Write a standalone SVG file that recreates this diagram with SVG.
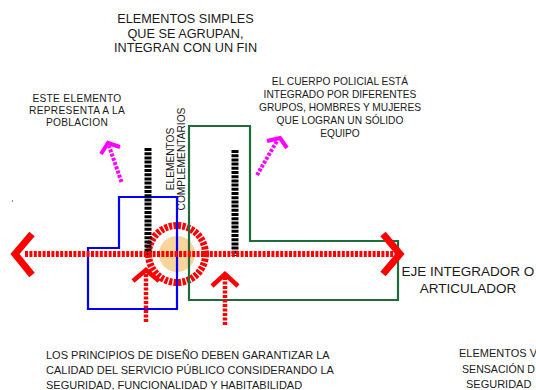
<svg xmlns="http://www.w3.org/2000/svg" width="536" height="390" viewBox="0 0 536 390">
<style>
text{font-family:"Liberation Sans",Arial,sans-serif;fill:#1a1a1a}
.t13{font-size:12.7px;text-anchor:middle}
.t10{font-size:10.2px;text-anchor:middle}
.t11{font-size:11px}
.big{font-size:13.5px;text-anchor:middle}
.reddash{fill:none;stroke:#ff0000;stroke-width:6;stroke-dasharray:3 1.4}
.redup{fill:none;stroke:#ff0000;stroke-width:4.5;stroke-dasharray:3 1.5}
.redhead{fill:none;stroke:#ff0000;stroke-width:4.5;stroke-linecap:butt;stroke-linejoin:miter}
.bighead{fill:none;stroke:#ff0000;stroke-width:7;stroke-linejoin:miter}
.blackdash{fill:none;stroke:#000;stroke-width:7;stroke-dasharray:3 1.2}
.mag{fill:none;stroke:#ff00ff;stroke-width:4;stroke-dasharray:3 1.5}
.maghead{fill:none;stroke:#ff00ff;stroke-width:4;stroke-linejoin:miter}
</style>
<rect width="536" height="390" fill="#fff"/>

<g id="poblacion-text">
<text class="t10" x="77" y="101.5" letter-spacing="0.3">ESTE ELEMENTO</text>
<text class="t10" x="77" y="113.5" letter-spacing="0.3">REPRESENTA A LA</text>
<text class="t10" x="77" y="125.5" letter-spacing="0.3">POBLACION</text>
</g>

<g id="title-text">
<text class="t13" x="185.5" y="23">ELEMENTOS SIMPLES</text>
<text class="t13" x="185.5" y="37.5">QUE SE AGRUPAN,</text>
<text class="t13" x="185.5" y="52">INTEGRAN CON UN FIN</text>
</g>

<g id="policia-text">
<text class="t10" x="340" y="85">EL CUERPO POLICIAL ESTÁ</text>
<text class="t10" x="340" y="97.5">INTEGRADO POR DIFERENTES</text>
<text class="t10" x="340" y="110.5">GRUPOS, HOMBRES Y MUJERES</text>
<text class="t10" x="340" y="124">QUE LOGRAN UN SÓLIDO</text>
<text class="t10" x="340" y="137">EQUIPO</text>
</g>

<g id="complementarios-text">
<text class="t10" transform="translate(173.5,159) rotate(-90)">ELEMENTOS</text>
<text class="t10" transform="translate(184.5,159) rotate(-90)">COMPLEMENTARIOS</text>
</g>

<g id="center-node">
<circle cx="177" cy="254" r="18" fill="#f9d59c"/>
<circle cx="177" cy="254" r="28.5" fill="none" stroke="#ff0000" stroke-width="7" stroke-dasharray="3.2 1.3"/>
</g>

<g id="blue-shape">
<polygon points="119,197 177,197 177,309 88,309 88,248 119,248" fill="none" stroke="#0000ff" stroke-width="2.2"/>
</g>

<g id="green-shape">
<polygon points="189,126 250,126 250,241 398,241 398,300 189,300" fill="none" stroke="#1f6b3a" stroke-width="2.2"/>
</g>

<g id="connectors">
<line class="blackdash" x1="148" y1="148" x2="148" y2="255"/>
<line class="blackdash" x1="235" y1="150" x2="235" y2="256"/>
<line class="reddash" x1="25" y1="254" x2="396" y2="254"/>
<polyline class="bighead" points="32,234 15,254 32,275"/>
<polyline class="bighead" points="383,234 400,254 383,274"/>
<line class="redup" x1="146" y1="322" x2="146" y2="271"/>
<polyline class="redhead" points="133,281 146,270 159,281"/>
<line class="redup" x1="225" y1="325" x2="225" y2="275"/>
<polyline class="redhead" points="212,286 225,274 238,286"/>
<line class="mag" x1="121.5" y1="182" x2="109" y2="146"/>
<polyline class="maghead" points="101,154 108,143 120,147"/>
<line class="mag" x1="257" y1="175" x2="277" y2="141"/>
<polyline class="maghead" points="267,141 280,138 287,148"/>
</g>

<g id="eje-text">
<text class="big" x="468" y="276">EJE INTEGRADOR O</text>
<text class="big" x="468" y="292.5">ARTICULADOR</text>
</g>

<g id="principios-text">
<text class="t11" x="46" y="358.5">LOS PRINCIPIOS DE DISEÑO DEBEN GARANTIZAR LA</text>
<text class="t11" x="46" y="374">CALIDAD DEL SERVICIO PÚBLICO CONSIDERANDO LA</text>
<text class="t11" x="46" y="388.5">SEGURIDAD, FUNCIONALIDAD Y HABITABILIDAD</text>
</g>

<g id="seguridad-text">
<text class="t11" x="459" y="357">ELEMENTOS V</text>
<text class="t11" x="462" y="373" textLength="73" lengthAdjust="spacingAndGlyphs">SENSACIÓN D</text>
<text class="t11" x="466" y="388">SEGURIDAD</text>
</g>

<circle cx="12.5" cy="201" r="0.7" fill="#555"/>
</svg>
